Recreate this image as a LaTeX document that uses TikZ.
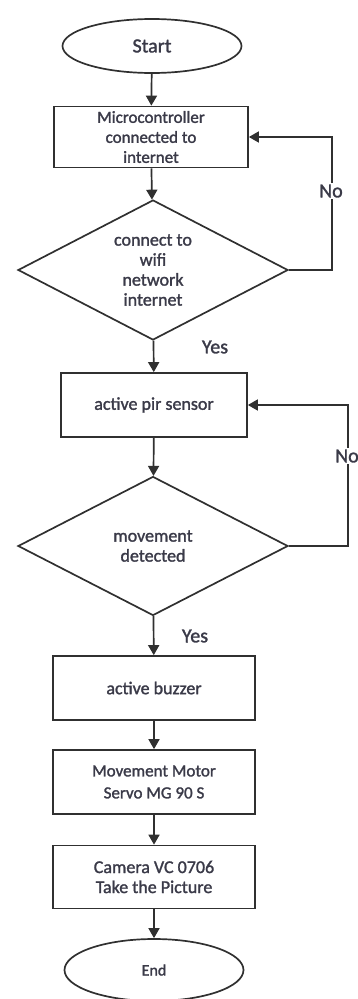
\documentclass[tikz,border=0pt]{standalone}
\usepackage{fontspec}
\setmainfont{Carlito}[FakeBold=1.5]
\usetikzlibrary{shapes.geometric,arrows.meta}
\definecolor{txt}{HTML}{3A3A48}
\definecolor{ln}{HTML}{303030}
\tikzset{
  base/.style={draw=ln,line width=1.7pt,text=txt,inner sep=0pt,align=center,font=\fontsize{18}{20}\selectfont},
  term/.style={base,ellipse,minimum width=179pt,minimum height=54pt},
  proc/.style={base,rectangle,minimum width=202pt,minimum height=64pt},
  dec/.style={base,diamond,aspect=1.93,minimum width=270pt,minimum height=140pt},
  flow/.style={draw=ln,line width=1.7pt,-{Triangle[length=10pt,width=11pt]}},
  lab/.style={text=txt,font=\fontsize{20}{22}\selectfont,fill=white,inner sep=2pt}
}
\begin{document}
\begin{tikzpicture}[x=1pt,y=-1pt]
\useasboundingbox (0,0) rectangle (358,999);
\node[term,font=\fontsize{20}{24}\selectfont] (start) at (152,46) {Start};
\node[proc,minimum width=194pt,minimum height=61pt,font=\fontsize{17}{20}\selectfont] (r1) at (151,137) {Microcontroller\\connected to\\internet};
\node[dec] (d1) at (153,270) {connect to\\wifi\\network\\internet};
\node[proc,minimum width=186pt] (r2) at (154,405) {active pir sensor};
\node[dec,minimum height=139pt] (d2) at (153,546) {movement\\detected};
\node[proc] (r3) at (154,688) {active buzzer};
\node[proc,font=\fontsize{17}{22}\selectfont] (r4) at (154,782) {Movement Motor\\Servo MG 90 S};
\node[proc,minimum height=63pt] (r5) at (154,877) {Camera VC 0706\\Take the Picture};
\node[term,minimum height=62pt,font=\fontsize{16}{20}\selectfont] (end) at (154,970) {End};
\coordinate (c1a) at (332,270);
\coordinate (c1b) at (332,137);
\coordinate (c2a) at (348,546);
\coordinate (c2b) at (348,405);
\draw[flow] (start) -- (r1);
\draw[flow] (r1) -- (d1);
\draw[flow] (d1) -- (r2);
\draw[flow] (r2) -- (d2);
\draw[flow] (d2) -- (r3);
\draw[flow] (r3) -- (r4);
\draw[flow] (r4) -- (r5);
\draw[flow] (r5) -- (end);
\draw[flow] (d1.east) -- (c1a) -- (c1b) -- (r1.east |- c1b);
\draw[flow] (d2.east) -- (c2a) -- (c2b) -- (r2.east |- c2b);
\node[lab] (no1) at (331,191) {No};
\node[lab] (no2) at (347,456) {No};
\node[lab,fill=none] (yes1) at (215,347) {Yes};
\node[lab,fill=none] (yes2) at (195,636) {Yes};
\end{tikzpicture}
\end{document}
